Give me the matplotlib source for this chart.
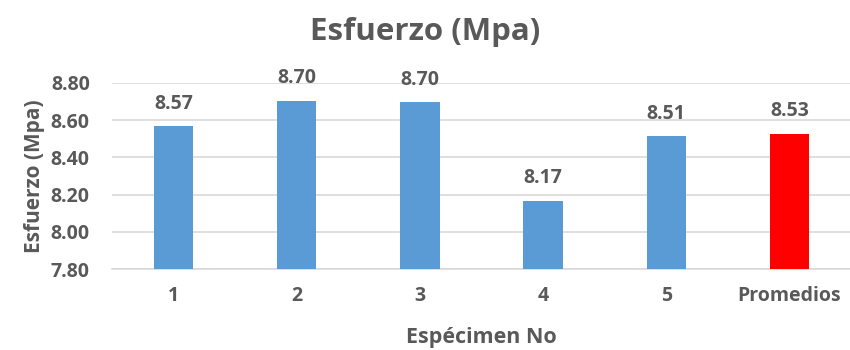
import matplotlib
matplotlib.use("Agg")
import matplotlib.pyplot as plt

categories = ["1", "2", "3", "4", "5", "Promedios"]
values = [8.566, 8.704, 8.696, 8.168, 8.512, 8.527]
colors = ["#5B9BD5"] * 5 + ["#FF0000"]
yticks = [7.80, 8.00, 8.20, 8.40, 8.60, 8.80]

txt = "#595959"
plt.rcParams["font.family"] = ["Open Sans", "DejaVu Sans"]

fig = plt.figure(figsize=(8.5, 3.5), dpi=100)
ax = fig.add_axes([112 / 850, 1 - 269.3 / 350, 739 / 850, 186.6 / 350])

x = range(len(categories))
bars = ax.bar(x, values, width=0.32, color=colors, zorder=3)
for b, v in zip(bars, values):
    ax.annotate(f"{v:.2f}", (b.get_x() + b.get_width() / 2, b.get_height()),
                xytext=(0, 9), textcoords="offset points", ha="center", va="bottom",
                fontsize=14, fontweight="bold", color=txt)

ax.set_ylim(7.80, 8.80)
ax.set_xlim(-0.5, len(categories) - 0.5)
ax.set_yticks(yticks)
ax.set_yticklabels([f"{t:.2f}" for t in yticks])
ax.set_xticks(list(x))
ax.set_xticklabels(categories)
ax.tick_params(axis="both", length=0, labelsize=14, colors=txt)
ax.tick_params(axis="x", pad=12)
ax.tick_params(axis="y", pad=16)
for lbl in ax.get_xticklabels() + ax.get_yticklabels():
    lbl.set_fontweight("bold")

ax.grid(axis="y", color="#D9D9D9", linewidth=1.2, zorder=0)
for s in ["top", "right", "left"]:
    ax.spines[s].set_visible(False)
ax.spines["bottom"].set_color("#D9D9D9")
ax.spines["bottom"].set_linewidth(1.2)

ax.set_xlabel("Espécimen No", fontsize=15.5, fontweight="bold", color=txt, labelpad=15)
ax.set_ylabel("Esfuerzo (Mpa)", fontsize=15, fontweight="bold", color=txt, labelpad=4)
fig.text(0.5, 1 - 32 / 350, "Esfuerzo (Mpa)", ha="center", va="center",
         fontsize=22.5, fontweight="bold", color=txt)

fig.savefig("out.png", dpi=100)
